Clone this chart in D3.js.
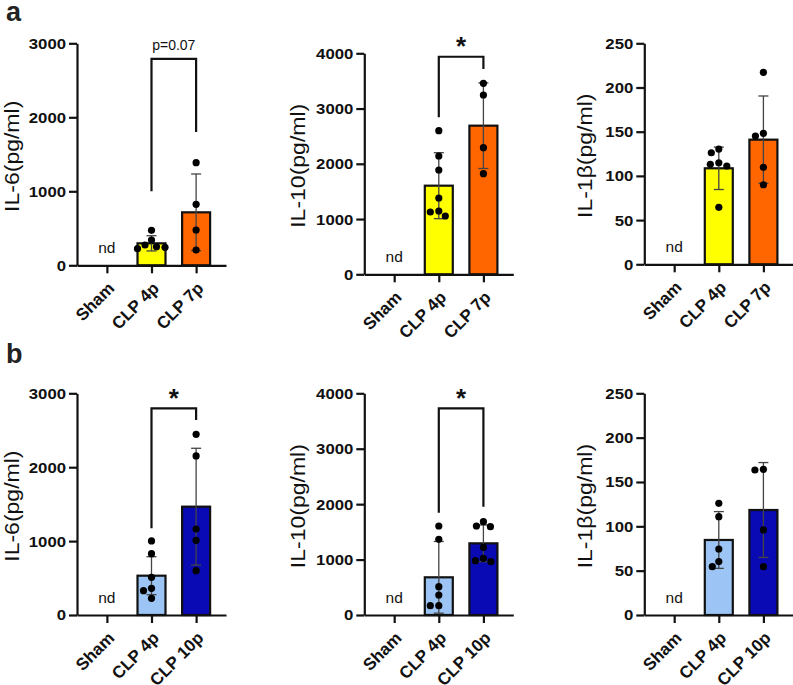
<!DOCTYPE html>
<html><head><meta charset="utf-8">
<script src="https://cdn.jsdelivr.net/npm/d3@7"></script>
<style>
body{margin:0;background:#fff}
svg{display:block}
text{font-family:"Liberation Sans",Arial,Helvetica,sans-serif}
</style>
</head><body>
<svg id="chart" width="793" height="685"></svg>
<script>
// ---------------- DATA ----------------
const groupsA = ["Sham", "CLP 4p", "CLP 7p"];
const groupsB = ["Sham", "CLP 4p", "CLP 10p"];
const colorsA = ["#ffffff", "#ffff00", "#ff6600"];
const colorsB = ["#ffffff", "#9cc5f5", "#0a0ab4"];

const ticksIL6 = [0, 1000, 2000, 3000];
const ticksIL10 = [0, 1000, 2000, 3000, 4000];
const ticksIL1b = [0, 50, 100, 150, 200, 250];

// row a
const il6A_means = [null, 297, 716];
const il6A_sds = [null, 103, 518];
const il6A_4p = [473, 342, 274, 251, 243, 224];
const il6A_7p = [1387, 824, 477, 207];
const il6A_bracket = [2790, 1000, 1800];
const il6A_sig = "p=0.07";

const il10A_means = [null, 1604, 2690];
const il10A_sds = [null, 597, 775];
const il10A_4p = [2600, 2141, 1888, 1381, 1146, 1128, 1055];
const il10A_7p = [3457, 3245, 2291, 1821];
const il10A_bracket = [3938, 2842, 3716];
const il10A_sig = "*";

const il1bA_means = [null, 108.6, 141];
const il1bA_sds = [null, 24, 49.4];
const il1bA_4p = [130.4, 126.2, 114.9, 113.1, 111.2, 64.5];
const il1bA_7p = [217.2, 148.2, 145.1, 109.7, 90];

// row b
const il6B_means = [null, 532, 1466];
const il6B_sds = [null, 257, 790];
const il6B_4p = [1002, 830, 510, 361, 329, 226];
const il6B_10p = [2445, 2152, 1164, 1011, 600];
const il6B_bracket = [2797, 1173, 2639];
const il6B_sig = "*";

const il10B_means = [null, 680, 1293];
const il10B_sds = [null, 647, 331];
const il10B_4p = [1606, 1365, 511, 361, 168, 168];
const il10B_10p = [1684, 1606, 1594, 1221, 1023, 980, 962];
const il10B_bracket = [3729, 1847, 1955];
const il10B_sig = "*";

const il1bB_means = [null, 84.6, 118.4];
const il1bB_sds = [null, 32, 53.5];
const il1bB_4p = [125.9, 110.9, 74.4, 60.2, 54.5];
const il1bB_10p = [164.3, 163.5, 95.9, 54.5];

// ---------------- LAYOUT ----------------
const panels = [
  {cats: groupsA, colors: colorsA, label: "IL-6(pg/ml)", ticks: ticksIL6, means: il6A_means, sds: il6A_sds, pts: [[], il6A_4p, il6A_7p], bracket: il6A_bracket, sig: il6A_sig,
   ax: 77, top: 43.3, zero: 265.3, labX: 12},
  {cats: groupsA, colors: colorsA, label: "IL-10(pg/ml)", ticks: ticksIL10, means: il10A_means, sds: il10A_sds, pts: [[], il10A_4p, il10A_7p], bracket: il10A_bracket, sig: il10A_sig,
   ax: 364.3, top: 53.3, zero: 274.3, labX: 298},
  {cats: groupsA, colors: colorsA, label: "IL-1β(pg/ml)", ticks: ticksIL1b, means: il1bA_means, sds: il1bA_sds, pts: [[], il1bA_4p, il1bA_7p], bracket: null,
   ax: 644.3, top: 43.3, zero: 264.3, labX: 585},
  {cats: groupsB, colors: colorsB, label: "IL-6(pg/ml)", ticks: ticksIL6, means: il6B_means, sds: il6B_sds, pts: [[], il6B_4p, il6B_10p], bracket: il6B_bracket, sig: il6B_sig,
   ax: 77, top: 393.3, zero: 615, labX: 12},
  {cats: groupsB, colors: colorsB, label: "IL-10(pg/ml)", ticks: ticksIL10, means: il10B_means, sds: il10B_sds, pts: [[], il10B_4p, il10B_10p], bracket: il10B_bracket, sig: il10B_sig,
   ax: 364.3, top: 393.3, zero: 615, labX: 298},
  {cats: groupsB, colors: colorsB, label: "IL-1β(pg/ml)", ticks: ticksIL1b, means: il1bB_means, sds: il1bB_sds, pts: [[], il1bB_4p, il1bB_10p], bracket: null,
   ax: 644.3, top: 393.3, zero: 615, labX: 585}
];

const svg = d3.select("#chart");
const AXW = 149, BARW = 28, R = 3.6, MIND = 8.2;

function stretch(sel, f) {
  sel.each(function () {
    const w = this.getComputedTextLength();
    d3.select(this).attr("textLength", w * f).attr("lengthAdjust", "spacingAndGlyphs");
  });
}

function swarm(vals, y) {
  const placed = [];
  vals.forEach(v => {
    const py = y(v);
    let best = 0;
    for (let k = 0; k < 80; k++) {
      const cand = k === 0 ? [0] : [-k * 0.5, k * 0.5];
      let found = null;
      for (const dx of cand) {
        if (placed.every(p => Math.hypot(p.dx - dx, p.py - py) >= MIND)) { found = dx; break; }
      }
      if (found !== null) { best = found; break; }
    }
    placed.push({v, py, dx: best});
  });
  return placed;
}

panels.forEach(p => {
  const g = svg.append("g");
  const max = p.ticks[p.ticks.length - 1];
  const y = d3.scaleLinear().domain([0, max]).range([p.zero, p.top]);
  const x = d3.scalePoint().domain(p.cats).range([p.ax, p.ax + AXW]).padding(0.67);

  // bars
  const idx = [1, 2];
  g.selectAll("rect.bar").data(idx).join("rect")
    .attr("x", i => x(p.cats[i]) - BARW / 2)
    .attr("width", BARW)
    .attr("y", i => y(p.means[i]))
    .attr("height", i => y(0) - y(p.means[i]))
    .attr("fill", i => p.colors[i])
    .attr("stroke", "#111").attr("stroke-width", 2.2);

  // error bars
  idx.forEach(i => {
    const cx = x(p.cats[i]);
    const lo = y(Math.max(0, p.means[i] - p.sds[i])), hi = y(p.means[i] + p.sds[i]);
    g.append("line").attr("x1", cx).attr("x2", cx).attr("y1", lo).attr("y2", hi)
      .attr("stroke", "#444").attr("stroke-width", 1.3);
    [lo, hi].forEach(yy => g.append("line").attr("x1", cx - 5).attr("x2", cx + 5).attr("y1", yy).attr("y2", yy)
      .attr("stroke", "#444").attr("stroke-width", 1.3));
  });

  // dots
  idx.forEach(i => {
    const cx = x(p.cats[i]);
    const sw = swarm(p.pts[i], y);
    g.selectAll(null).data(sw).join("circle")
      .attr("cx", d => cx + d.dx).attr("cy", d => d.py).attr("r", R).attr("fill", "#000");
  });

  // y axis
  const ya = g.append("g").attr("transform", `translate(${p.ax},0)`)
    .call(d3.axisLeft(y).tickValues(p.ticks).tickSize(8).tickSizeOuter(0).tickPadding(3).tickFormat(d3.format("d")));
  ya.select(".domain").attr("stroke", "#111").attr("stroke-width", 2.2);
  ya.selectAll(".tick line").attr("stroke", "#111").attr("stroke-width", 2.2);
  ya.selectAll(".tick text").attr("fill", "#111").attr("font-size", 15.5).attr("font-weight", "bold");
  stretch(ya.selectAll(".tick text"), 1.08);

  // x axis
  const xa = g.append("g").attr("transform", `translate(0,${p.zero})`)
    .call(d3.axisBottom(x).tickSize(8).tickSizeOuter(0));
  xa.select(".domain").attr("stroke", "#111").attr("stroke-width", 2.2);
  xa.selectAll(".tick line").attr("stroke", "#111").attr("stroke-width", 2.2);
  xa.selectAll(".tick text").attr("fill", "#111").attr("font-size", 17).attr("font-weight", "bold")
    .attr("text-anchor", "end").attr("x", 0).attr("y", 0).attr("dy", 0)
    .attr("transform", "translate(8,24) rotate(-45)");

  // nd
  g.append("text").attr("x", x(p.cats[0])).attr("y", p.zero - 12).attr("text-anchor", "middle")
    .attr("font-size", 15.5).attr("fill", "#111").text("nd");

  // y label
  const yl = g.append("text").attr("transform", `translate(${p.labX + 7},${(p.top + p.zero) / 2 + 2}) rotate(-90)`)
    .attr("text-anchor", "middle").attr("font-size", 20).attr("fill", "#111").text(p.label);
  stretch(yl, 1.15);

  // bracket
  if (p.bracket) {
    const [t, l, r] = p.bracket;
    const x1 = x(p.cats[1]), x2 = x(p.cats[2]);
    g.append("path").attr("d", `M${x1},${y(l)}V${y(t)}H${x2}V${y(r)}`)
      .attr("fill", "none").attr("stroke", "#111").attr("stroke-width", 2.2);
    if (p.sig === "*") {
      g.append("text").attr("x", (x1 + x2) / 2).attr("y", y(t) - 1.5).attr("text-anchor", "middle")
        .attr("font-size", 26).attr("font-weight", "bold").attr("fill", "#111").text(p.sig);
    } else {
      g.append("text").attr("x", (x1 + x2) / 2).attr("y", y(t) - 9).attr("text-anchor", "middle")
        .attr("font-size", 14).attr("fill", "#111").text(p.sig);
    }
  }
});

// panel letters
svg.append("text").attr("x", 6).attr("y", 21).attr("font-size", 27).attr("font-weight", "bold").attr("fill", "#222").text("a");
svg.append("text").attr("x", 6).attr("y", 363).attr("font-size", 27).attr("font-weight", "bold").attr("fill", "#222").text("b");
</script>
</body></html>
